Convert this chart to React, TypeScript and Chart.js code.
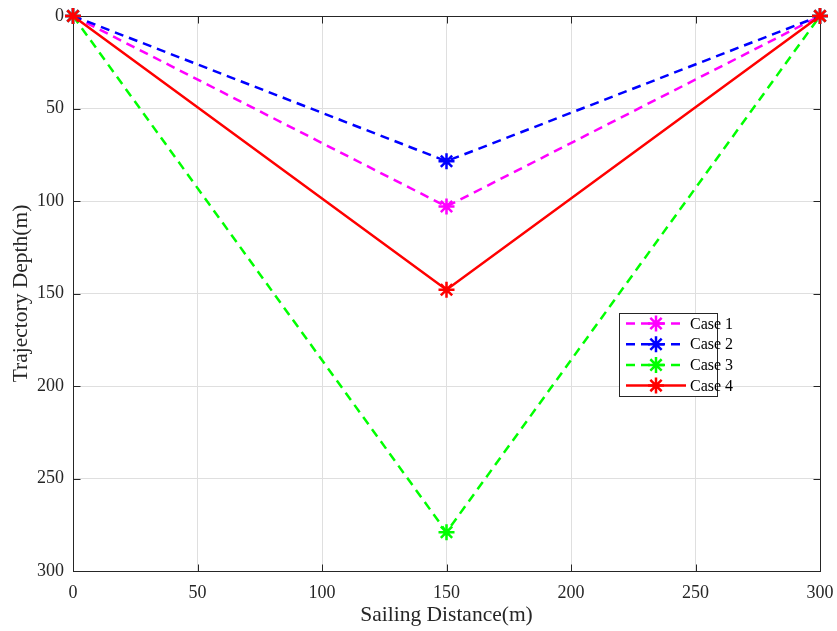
import React, { useEffect, useRef } from "react";
import { Chart, registerables } from "chart.js";
Chart.register(...registerables);

const xValues = [0, 150, 300];
const case1 = [0, 103, 0];
const case2 = [0, 78.5, 0];
const case3 = [0, 279, 0];
const case4 = [0, 148, 0];
const seriesNames = ["Case 1", "Case 2", "Case 3", "Case 4"];
const seriesColors = ["#ff00ff", "#0000ff", "#00ff00", "#ff0000"];
const seriesDashed = [true, true, true, false];
const xTicks = [0, 50, 100, 150, 200, 250, 300];
const yTicks = [0, 50, 100, 150, 200, 250, 300];

const FONT = "'Liberation Serif', 'Times New Roman', serif";

export default function App() {
  const ref = useRef<HTMLCanvasElement>(null);
  useEffect(() => {
    document.body.style.margin = "0";
    const all = [case1, case2, case3, case4];
    const datasets = all.map((vals, i) => ({
      label: seriesNames[i],
      data: vals.map((v, j) => ({ x: xValues[j], y: v })),
      borderColor: seriesColors[i],
      backgroundColor: seriesColors[i],
      borderWidth: 2.5,
      borderDash: seriesDashed[i] ? [9, 6] : [],
      pointStyle: "star",
      pointRadius: 8,
      pointBorderWidth: 2.5,
      pointBorderColor: seriesColors[i],
      clip: false as any,
      order: 4 - i,
    }));

    const framePlugin = {
      id: "frame",
      beforeDatasetsDraw(chart: any) {
        const { ctx, chartArea: a, scales } = chart;
        ctx.save();
        ctx.strokeStyle = "#262626";
        ctx.lineWidth = 1;
        const L = Math.round(a.left) + 0.5, R = Math.round(a.right) + 0.5;
        const T = Math.round(a.top) + 0.5, B = Math.round(a.bottom) + 0.5;
        ctx.strokeRect(L, T, R - L, B - T);
        ctx.beginPath();
        xTicks.forEach((t) => {
          const x = Math.round(scales.x.getPixelForValue(t)) + 0.5;
          ctx.moveTo(x, B); ctx.lineTo(x, B - 7);
          ctx.moveTo(x, T); ctx.lineTo(x, T + 7);
        });
        yTicks.forEach((t) => {
          const y = Math.round(scales.y.getPixelForValue(t)) + 0.5;
          ctx.moveTo(L, y); ctx.lineTo(L + 7, y);
          ctx.moveTo(R, y); ctx.lineTo(R - 7, y);
        });
        ctx.stroke();
        ctx.restore();
      },
      afterDraw(chart: any) {
        const { ctx } = chart;
        const bx = 619.5, by = 313.5, bw = 98, bh = 83;
        ctx.save();
        ctx.fillStyle = "#ffffff";
        ctx.fillRect(bx, by, bw, bh);
        ctx.strokeStyle = "#262626";
        ctx.lineWidth = 1;
        ctx.strokeRect(bx, by, bw, bh);
        seriesNames.forEach((name, i) => {
          const y = 323.5 + i * 20.7;
          ctx.strokeStyle = seriesColors[i];
          ctx.lineWidth = 2.5;
          ctx.setLineDash(seriesDashed[i] ? [9, 6] : []);
          ctx.beginPath();
          ctx.moveTo(626, y);
          ctx.lineTo(686, y);
          ctx.stroke();
          ctx.setLineDash([]);
          const r = 8, cx = 656;
          ctx.beginPath();
          for (let k = 0; k < 4; k++) {
            const ang = (k * Math.PI) / 4;
            ctx.moveTo(cx + r * Math.cos(ang), y + r * Math.sin(ang));
            ctx.lineTo(cx - r * Math.cos(ang), y - r * Math.sin(ang));
          }
          ctx.stroke();
          ctx.fillStyle = "#000000";
          ctx.font = `16px ${FONT}`;
          ctx.textAlign = "left";
          ctx.textBaseline = "middle";
          ctx.fillText(name, 690, y + 1);
        });
        ctx.restore();
      },
    };

    const chart = new Chart(ref.current!, {
      type: "line",
      data: { datasets: datasets as any },
      options: {
        animation: false,
        responsive: false,
        devicePixelRatio: 1,
        layout: { padding: { left: 0, right: 17, top: 16, bottom: 0 } },
        plugins: { legend: { display: false }, tooltip: { enabled: false } },
        scales: {
          x: {
            type: "linear",
            min: 0,
            max: 300,
            afterBuildTicks: (s: any) => { s.ticks = xTicks.map((v) => ({ value: v })); },
            afterFit: (s: any) => { s.height = 60; s.paddingLeft = 0; s.paddingRight = 0; },
            ticks: { color: "#262626", font: { family: FONT, size: 18 }, padding: 11, maxRotation: 0 },
            grid: { color: "#dfdfdf", drawTicks: false, lineWidth: 1 },
            border: { display: false },
            title: { display: true, text: "Sailing Distance(m)", color: "#262626", font: { family: FONT, size: 21.5 }, padding: { top: 0, bottom: 3 } },
          },
          y: {
            type: "linear",
            min: 0,
            max: 300,
            reverse: true,
            afterBuildTicks: (s: any) => { s.ticks = yTicks.map((v) => ({ value: v })); },
            afterFit: (s: any) => { s.width = 73; s.paddingTop = 0; s.paddingBottom = 0; },
            ticks: { color: "#262626", font: { family: FONT, size: 18 }, padding: 9 },
            grid: { color: "#dfdfdf", drawTicks: false, lineWidth: 1 },
            border: { display: false },
            title: { display: true, text: "Trajectory Depth(m)", color: "#262626", font: { family: FONT, size: 21.5 }, padding: { top: 8, bottom: 0 } },
          },
        },
      },
      plugins: [framePlugin],
    });
    return () => chart.destroy();
  }, []);
  return <canvas ref={ref} width={837} height={631} style={{ display: "block" }} />;
}
